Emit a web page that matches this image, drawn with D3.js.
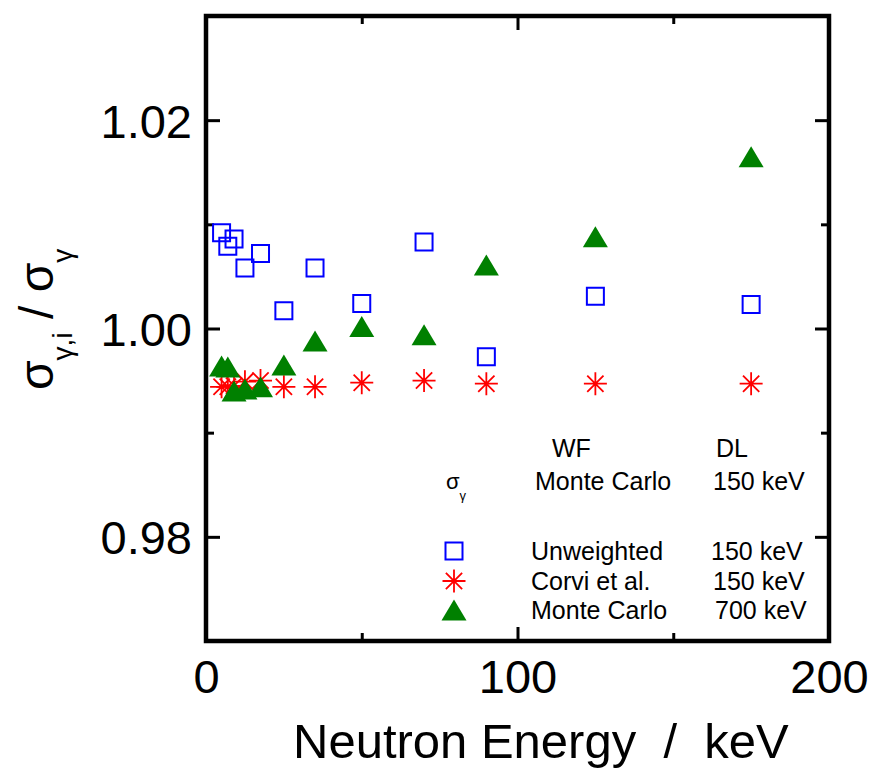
<!DOCTYPE html>
<html>
<head>
<meta charset="utf-8">
<script src="https://cdn.jsdelivr.net/npm/d3@7"></script>
<style>
  body { margin: 0; background: #fff; }
  text { font-family: "Liberation Sans", Arial, sans-serif; fill: #000; white-space: pre; }
</style>
</head>
<body>
<div id="chart"></div>
<script>
// neutron energies (keV) and cross-section ratios
const energies = [5, 7, 9, 12.5, 17.5, 25, 35, 50, 70, 90, 125, 175];
const unweighted = [1.0092, 1.0079, 1.0086, 1.0058, 1.0072, 1.0017, 1.0058, 1.0024, 1.0083, 0.9973, 1.0031, 1.0023];
const corvi = [0.9944, 0.9944, 0.9945, 0.9949, 0.995, 0.9944, 0.9944, 0.9948, 0.995, 0.9947, 0.9947, 0.9947];
const monteCarlo700 = [0.9964, 0.9963, 0.994, 0.9942, 0.9944, 0.9965, 0.9988, 1.0002, 0.9994, 1.0061, 1.0088, 1.0165];

const xMajor = [0, 100, 200];
const xMinor = [50, 150];
const yMajor = [0.98, 1.0, 1.02];
const yMinor = [0.99, 1.01];

const fullWidth = 874;
const fullHeight = 770;
const margin = { top: 16, right: 45, bottom: 129, left: 206 };
const width = fullWidth - margin.left - margin.right;
const height = fullHeight - margin.top - margin.bottom;

const x = d3.scaleLinear().domain([0, 200]).range([0, width]);
const y = d3.scaleLinear().domain([0.97, 1.03]).range([height, 0]);

const svg = d3
  .select("#chart")
  .append("svg")
  .attr("width", fullWidth)
  .attr("height", fullHeight);

const g = svg
  .append("g")
  .attr("transform", `translate(${margin.left}, ${margin.top})`);

// axes: ticks point inward on all four sides
const addAxis = (axis, values, size, transform, labels) => {
  const a = g
    .append("g")
    .attr("transform", transform)
    .call(axis.tickValues(values).tickSize(size).tickFormat(labels ? labels : ""));
  a.select(".domain").remove();
  a.selectAll("line").attr("stroke", "#000").attr("stroke-width", 3);
  a.selectAll("text").style("font-size", "47px").attr("fill", "#000");
  return a;
};

addAxis(d3.axisBottom(x).tickPadding(19), xMajor, -14, `translate(0, ${height})`, d3.format("d"));
addAxis(d3.axisBottom(x), xMinor, -8, `translate(0, ${height})`);
addAxis(d3.axisTop(x), xMajor, -14, "translate(0, 0)");
addAxis(d3.axisTop(x), xMinor, -8, "translate(0, 0)");
addAxis(d3.axisLeft(y).tickPadding(14), yMajor, -14, "translate(0, 0)", d3.format(".2f"))
  .selectAll("text")
  .attr("dy", "0.36em");
addAxis(d3.axisLeft(y), yMinor, -8, "translate(0, 0)");
addAxis(d3.axisRight(y), yMajor, -14, `translate(${width}, 0)`);
addAxis(d3.axisRight(y), yMinor, -8, `translate(${width}, 0)`);

g.append("rect")
  .attr("width", width)
  .attr("height", height)
  .attr("fill", "none")
  .attr("stroke", "#000")
  .attr("stroke-width", 4.5);

// marker shapes
const squarePath = "M-8.5,-8.5H8.5V8.5H-8.5Z";
const starPath = (() => {
  const r = 11.5, d = r * Math.SQRT1_2;
  return `M${-r},0H${r}M0,${-r}V${r}M${-d},${-d}L${d},${d}M${-d},${d}L${d},${-d}`;
})();
const trianglePath = "M0,-10.5L12.5,10.5L-12.5,10.5Z";

const drawSeries = (values, path, style) => {
  const sel = g
    .append("g")
    .selectAll("path")
    .data(energies.map((e, i) => ({ e: e, v: values[i] })))
    .enter()
    .append("path")
    .attr("d", path)
    .attr("transform", d => `translate(${x(d.e)}, ${y(d.v)})`);
  Object.keys(style).forEach(k => sel.attr(k, style[k]));
};

drawSeries(unweighted, squarePath, { fill: "none", stroke: "#0000ff", "stroke-width": 2 });
drawSeries(corvi, starPath, { fill: "none", stroke: "#ff0000", "stroke-width": 1.8 });
drawSeries(monteCarlo700, trianglePath, { fill: "#008000", stroke: "none" });

// axis titles
svg
  .append("text")
  .attr("x", 293)
  .attr("y", 758)
  .style("font-size", "49px")
  .text("Neutron Energy  /  keV");

const yTitle = svg
  .append("text")
  .attr("transform", "translate(53, 390) rotate(-90)")
  .style("font-size", "48px");
yTitle.append("tspan").text("σ");
yTitle.append("tspan").attr("dy", 19).style("font-size", "28px").text("γ,i");
yTitle.append("tspan").attr("dy", -19).text(" / σ");
yTitle.append("tspan").attr("dy", 19).style("font-size", "28px").text("γ");

// legend
const legend = svg.append("g").style("font-size", "25px");
legend.append("text").attr("x", 552).attr("y", 457).text("WF");
legend.append("text").attr("x", 716).attr("y", 457).text("DL");

const sig = legend.append("text").attr("x", 446).attr("y", 489).style("font-size", "22px");
sig.append("tspan").text("σ");
sig.append("tspan").attr("dy", 11).style("font-size", "13px").text("γ");
legend.append("text").attr("x", 535).attr("y", 490).text("Monte Carlo");
legend.append("text").attr("x", 713).attr("y", 490).text("150 keV");

const legendRows = [
  { path: squarePath, style: { fill: "none", stroke: "#0000ff", "stroke-width": 2 }, wf: "Unweighted", dl: "150 keV", y: 551, dlx: 711 },
  { path: starPath, style: { fill: "none", stroke: "#ff0000", "stroke-width": 1.8 }, wf: "Corvi et al.", dl: "150 keV", y: 581, dlx: 713 },
  { path: trianglePath, style: { fill: "#008000", stroke: "none" }, wf: "Monte Carlo", dl: "700 keV", y: 610, dlx: 715 }
];

legendRows.forEach(r => {
  const m = legend
    .append("path")
    .attr("d", r.path)
    .attr("transform", `translate(454, ${r.y})`);
  Object.keys(r.style).forEach(k => m.attr(k, r.style[k]));
  legend.append("text").attr("x", 531).attr("y", r.y + 9).text(r.wf);
  legend.append("text").attr("x", r.dlx).attr("y", r.y + 9).text(r.dl);
});
</script>
</body>
</html>
